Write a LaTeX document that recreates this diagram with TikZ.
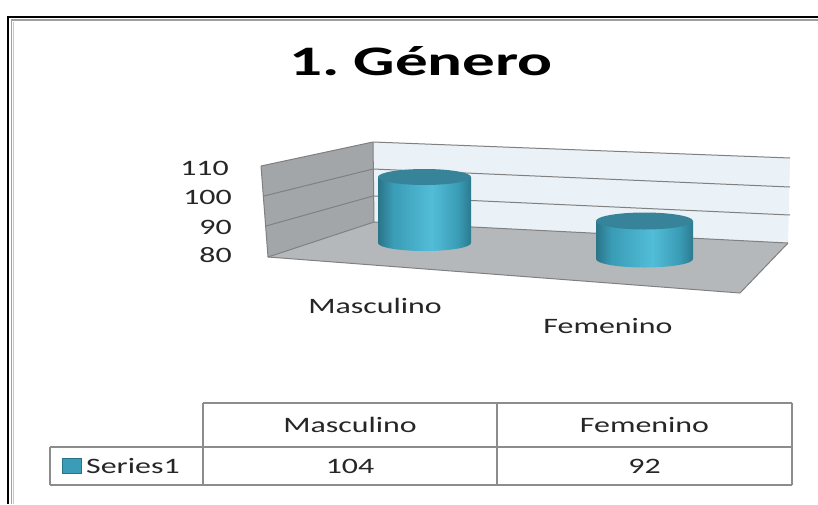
\documentclass[tikz,border=0pt]{standalone}
\usepackage{fontspec}
\newfontfamily\calib[FakeStretch=1.45]{Carlito}
\newfontfamily\calibbf[FakeStretch=1.55]{Carlito Bold}
\definecolor{cylA}{HTML}{2A7488}
\definecolor{cylB}{HTML}{3A9CB6}
\definecolor{cylC}{HTML}{52BDD8}
\definecolor{cylD}{HTML}{2C7A8E}
\definecolor{cyltop}{HTML}{37849A}
\definecolor{leftwall}{HTML}{A3A6A8}
\definecolor{backwall}{HTML}{EAF1F7}
\definecolor{floorc}{HTML}{B5B8BA}
\definecolor{gridc}{HTML}{808080}
\definecolor{tabc}{HTML}{8C8C8C}
\definecolor{txt}{HTML}{262626}
\pgfdeclarehorizontalshading{cylbody}{100bp}{color(0bp)=(cylA); color(25bp)=(cylA); color(33bp)=(cylB); color(54bp)=(cylC); color(68bp)=(cylB); color(75bp)=(cylD); color(100bp)=(cylD)}
\tikzset{
  lab/.style={font=\calib\fontsize{22}{26}\selectfont, text=txt, inner sep=0pt},
  grid/.style={draw=gridc, line width=1pt},
  tab/.style={draw=tabc, line width=2pt},
  body/.style={shading=cylbody, draw=none},
  cyltopst/.style={fill=cyltop, draw=none}
}
\begin{document}
\begin{tikzpicture}[x=1pt,y=-1pt]
\useasboundingbox (0,0) rectangle (818,504);
\fill[white] (0,0) rectangle (818,504);
% frame
\draw[black, line width=2.6pt] (8,504) -- (8,17) -- (818,17);
\draw[gray!75, line width=1.6pt] (11.5,504) -- (11.5,20) -- (818,20);
\draw[gray!45, line width=1.4pt] (13.5,504) -- (13.5,21.5);
% title
\node[font=\calibbf\fontsize{42}{48}\selectfont, anchor=base, inner sep=0pt] (title) at (421,75) {1.\hspace{14pt}Género};
% chart walls
\coordinate (A) at (261,166);
\coordinate (B) at (373,142);
\coordinate (C) at (374,222);
\coordinate (D) at (268,257);
\coordinate (E) at (790,158);
\coordinate (F) at (788,243);
\coordinate (G) at (740,293);
\fill[backwall] (B) -- (E) -- (F) -- (C) -- cycle;
\fill[leftwall] (A) -- (B) -- (C) -- (D) -- cycle;
\fill[floorc] (C) -- (F) -- (G) -- (D) -- cycle;
% grid lines
\draw[grid] (A) -- (B) -- (E);
\draw[grid] (264,196) -- (373,169) -- (790,187);
\draw[grid] (266,226) -- (373,196) -- (790,215);
\draw[grid] (D) -- (C) -- (F);
\draw[grid] (A) -- (D) -- (G) -- (F);
\draw[grid] (B) -- (C);
% axis labels
\node[lab, anchor=base east] (v110) at (229,175) {110};
\node[lab, anchor=base east] (v100) at (232,204) {100};
\node[lab, anchor=base east] (v90) at (232,234) {90};
\node[lab, anchor=base east] (v80) at (232,262) {80};
% cylinder 1
\path[body] (378,177) -- (378,243) arc[start angle=180, end angle=0, x radius=46.5, y radius=8] -- (471,177) -- cycle;
\fill[cyltopst] (424.5,177) ellipse[x radius=46.5, y radius=8];
% cylinder 2
\path[body] (596,221) -- (596,259) arc[start angle=180, end angle=0, x radius=48.5, y radius=8.5] -- (693,221) -- cycle;
\fill[cyltopst] (644.5,221) ellipse[x radius=48.5, y radius=8.5];
% category labels
\node[lab, anchor=base] (cm) at (375,313) {Masculino};
\node[lab, anchor=base] (cf) at (608,333) {Femenino};
% table
\draw[tab] (203,403) -- (792,403);
\draw[tab] (50,447) -- (792,447);
\draw[tab] (50,485) -- (792,485);
\draw[tab] (50,447) -- (50,485);
\draw[tab] (203,403) -- (203,485);
\draw[tab] (497,403) -- (497,485);
\draw[tab] (792,403) -- (792,485);
\node[lab, anchor=base] (hm) at (350,432) {Masculino};
\node[lab, anchor=base] (hf) at (644.5,432) {Femenino};
\node[lab, anchor=base] (vm) at (350,473) {104};
\node[lab, anchor=base] (vf) at (644.5,473) {92};
\node[draw=cylA, fill=cylB, line width=0.8pt, minimum width=19pt, minimum height=15pt, inner sep=0pt] (key) at (72,466) {};
\node[lab, anchor=base west] (s1) at (86,473) {Series1};
\end{tikzpicture}
\end{document}
